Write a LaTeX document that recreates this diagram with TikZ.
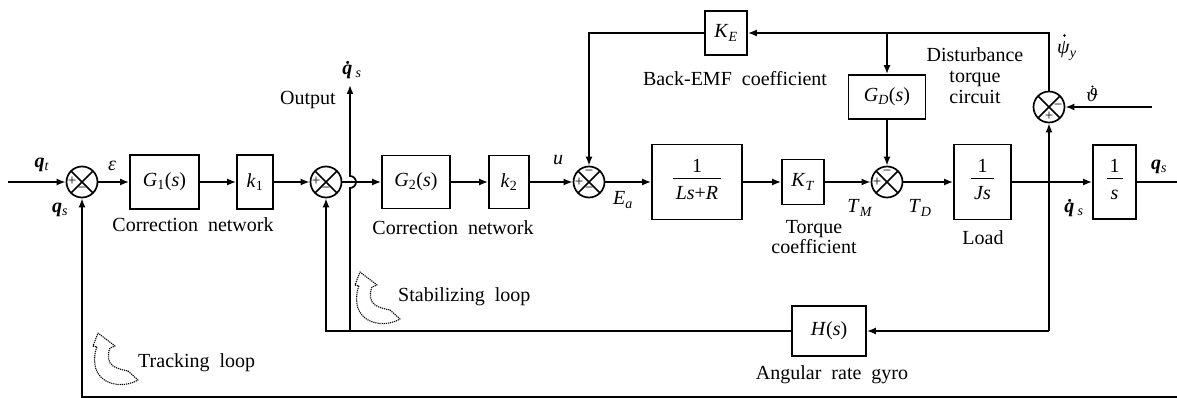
\documentclass[tikz,border=0pt]{standalone}
\usepackage{fontspec}
\setmainfont{Liberation Serif}
\newfontfamily\dvs{DejaVu Serif}
\usetikzlibrary{arrows.meta,calc}
\newcommand{\mi}[1]{\textit{#1}}
\newcommand{\sbs}[1]{\textsubscript{\textit{#1}}}
\newcommand{\bq}{\textbf{\textit{q}}}
\newcommand{\frc}[2]{\setlength{\arrayrulewidth}{1.2pt}\begin{tabular}{@{\hspace{3pt}}c@{\hspace{3pt}}}#1\\[-1pt]\hline\rule{0pt}{20pt}#2\end{tabular}}
\begin{document}
\begin{tikzpicture}[x=1pt,y=-1pt,
  every node/.style={font=\fontsize{20}{21}\selectfont},
  ln/.style={line width=1.7pt},
  arr/.style={ln,-{Latex[length=9pt,width=7pt]}},
  blk/.style={draw,line width=1.7pt,inner sep=0pt},
  sumj/.style={draw,circle,line width=1.7pt,minimum size=31pt,inner sep=0pt,
     path picture={\draw[line width=1.5pt] (path picture bounding box.north west)--(path picture bounding box.south east) (path picture bounding box.north east)--(path picture bounding box.south west);}},
  sgn/.style={font=\fontsize{15}{15}\selectfont,inner sep=0pt},
  lbl/.style={inner sep=0pt},
  loopicon/.style={line width=1.1pt,dash pattern=on 1.2pt off 0.9pt,line join=round}
]
\useasboundingbox (0,0) rectangle (1177,398);
% summing junctions
\node[sumj] (s1) at (82,182) {};
\node[sumj] (s2) at (326,182) {};
\node[sumj] (s3) at (589,182) {};
\node[sumj] (s4) at (887,182) {};
\node[sumj] (s5) at (1049,107) {};
% blocks
\node[blk,minimum width=69pt,minimum height=54pt] (g1) at (164.5,182) {\mi{G}\textsubscript{1}(\mi{s})};
\node[blk,minimum width=36pt,minimum height=54pt] (k1) at (255,182) {\mi{k}\textsubscript{1}};
\node[blk,minimum width=68pt,minimum height=53pt] (g2) at (416,182) {\mi{G}\textsubscript{2}(\mi{s})};
\node[blk,minimum width=40pt,minimum height=53pt] (k2) at (509,182) {\mi{k}\textsubscript{2}};
\node[blk,minimum width=90pt,minimum height=75pt] (ls) at (697,182) {\frc{1}{\mi{Ls}+\mi{R}}};
\node[blk,minimum width=42pt,minimum height=45pt] (kt) at (803,182) {\mi{K}\sbs{T}};
\node[blk,minimum width=57pt,minimum height=75pt] (js) at (982.5,182) {\frc{1}{\mi{Js}}};
\node[blk,minimum width=43pt,minimum height=74pt] (is) at (1114.5,182) {\frc{1}{\mi{s}}};
\node[blk,minimum width=42pt,minimum height=44pt] (ke) at (726,33) {\mi{K}\sbs{E}};
\node[blk,minimum width=77pt,minimum height=44pt] (gd) at (887,97) {\mi{G}\sbs{D}(\mi{s})};
\node[blk,minimum width=74pt,minimum height=50pt] (hs) at (829,331) {\mi{H}(\mi{s})};
% coordinates
\coordinate (in) at (8,182);
\coordinate (out) at (1177,182);
\coordinate (br) at (1049,182);
\coordinate (top5) at (1049,33);
\coordinate (tb) at (887,33);
\coordinate (tl) at (589,33);
\coordinate (hb) at (1049,331);
\coordinate (fb2) at (326,331);
\coordinate (ob) at (350,331);
\coordinate (otop) at (350,85);
\coordinate (bl) at (82,397);
\coordinate (brr) at (1177,397);
\coordinate (th) at (1152,107);
% forward path
\draw[arr] (in) -- (s1);
\draw[arr] (s1) -- (g1);
\draw[arr] (g1) -- (k1);
\draw[arr] (k1) -- (s2);
\draw[arr] (s2) -- (g2);
\draw[arr] (g2) -- (k2);
\draw[arr] (k2) -- (s3);
\draw[arr] (s3) -- (ls);
\draw[arr] (ls) -- (kt);
\draw[arr] (kt) -- (s4);
\draw[arr] (s4) -- (js);
\draw[ln] (js) -- (br);
\draw[arr] (br) -- (is);
\draw[ln] (is) -- (out);
% gyro loop
\draw[arr] (hb) -- (s5);
\draw[arr] (hb) -- (hs);
\draw[arr] (hs) -- (fb2) -- (s2);
\draw[arr] (ob) -- ($(ob |- s2)+(0,6)$) arc[start angle=-90,end angle=90,radius=6pt] -- (otop);
% top loop
\draw[arr] (s5) -- (top5) -- (ke);
\draw[arr] (tb) -- (gd);
\draw[arr] (gd) -- (s4);
\draw[arr] (ke) -- (tl) -- (s3);
\draw[arr] (th) -- (s5);
% tracking loop
\draw[arr] (brr) -- (bl) -- (s1);
% signs
\node[sgn] at ($(s1)+(-10,-1)$) {+};
\node[sgn] at ($(s1)+(0,8)$) {\textminus};
\node[sgn] at ($(s2)+(-10,-1)$) {+};
\node[sgn] at ($(s2)+(0,8)$) {\textminus};
\node[sgn] at ($(s3)+(0,-9)$) {\textminus};
\node[sgn] at ($(s3)+(-10,0)$) {+};
\node[sgn] at ($(s3)+(0,8)$) {\textminus};
\node[sgn] at ($(s4)+(0,-9)$) {\textminus};
\node[sgn] at ($(s4)+(-10,0)$) {+};
\node[sgn] at ($(s5)+(9,0)$) {\textminus};
\node[sgn] at ($(s5)+(0,9)$) {+};
% labels
\node[lbl] (lqt) at (42,165) {\bq\sbs{t}};
\node[lbl] (lqs1) at (60,210) {\bq\sbs{s}};
\node[lbl] (leps) at (112,166) {\textit{ε}};
\node[lbl] (lout) at (308,100) {Output};
\node[lbl] (lqd1) at (352,70) {\textbf{\textit{\.{q}}}\sbs{s}};
\node[lbl] (lcn1) at (193,225) {Correction\ \ network};
\node[lbl] (lcn2) at (453,228) {Correction\ \ network};
\node[lbl] (lu) at (558,160) {\mi{u}};
\node[lbl] (lea) at (623,200) {\mi{E}\sbs{a}};
\node[lbl] (lbemf) at (735,79) {Back-EMF\ \ coefficient};
\node[lbl,align=center] (ldtc) at (975,76) {Disturbance\\torque\\circuit};
\node[lbl] (ltm) at (860,208) {\mi{T}\sbs{M}};
\node[lbl] (ltd) at (920,208) {\mi{T}\sbs{D}};
\node[lbl,align=center,font=\fontsize{20}{20}\selectfont] (ltc) at (814,237) {Torque\\coefficient};
\node[lbl] (lload) at (983,238) {Load};
\node[lbl,anchor=base west] (lpsi) at (1057,54) {\textit{ψ}\sbs{y}};
\fill ($(lpsi.base west)+(7.5,-18.5)$) circle (1.3pt);
\node[lbl,anchor=base west,font=\dvs\itshape\fontsize{17}{17}\selectfont] (lth) at (1086,102) {ϑ};
\fill ($(lth.base west)+(6.5,-15.5)$) circle (1.2pt);
\node[lbl] (lqd2) at (1074,208) {\textbf{\textit{\.{q}}}\sbs{s}};
\node[lbl] (lqs2) at (1159,167) {\bq\sbs{s}};
\node[lbl] (lgyro) at (832,375) {Angular\ \ rate\ \ gyro};
\node[lbl,anchor=west] (lstab) at (398,297) {Stabilizing\ \ loop};
\node[lbl,anchor=west] (ltrack) at (138,363) {Tracking\ \ loop};
% loop icons
\foreach \px/\py in {355/272,93/333}{
\begin{scope}[shift={(\px,\py)}]
\draw[loopicon] (35,38) -- (45,47) .. controls (30,56) and (5,52) .. (2,32)
  .. controls (1,24) and (2,18) .. (4,14) -- (0,13) -- (5,0) -- (22,13) -- (17,15)
  .. controls (14,22) and (15,30) .. (20,33) .. controls (25,36) and (30,37) .. (35,38) -- cycle;
\end{scope}}
\end{tikzpicture}
\end{document}
